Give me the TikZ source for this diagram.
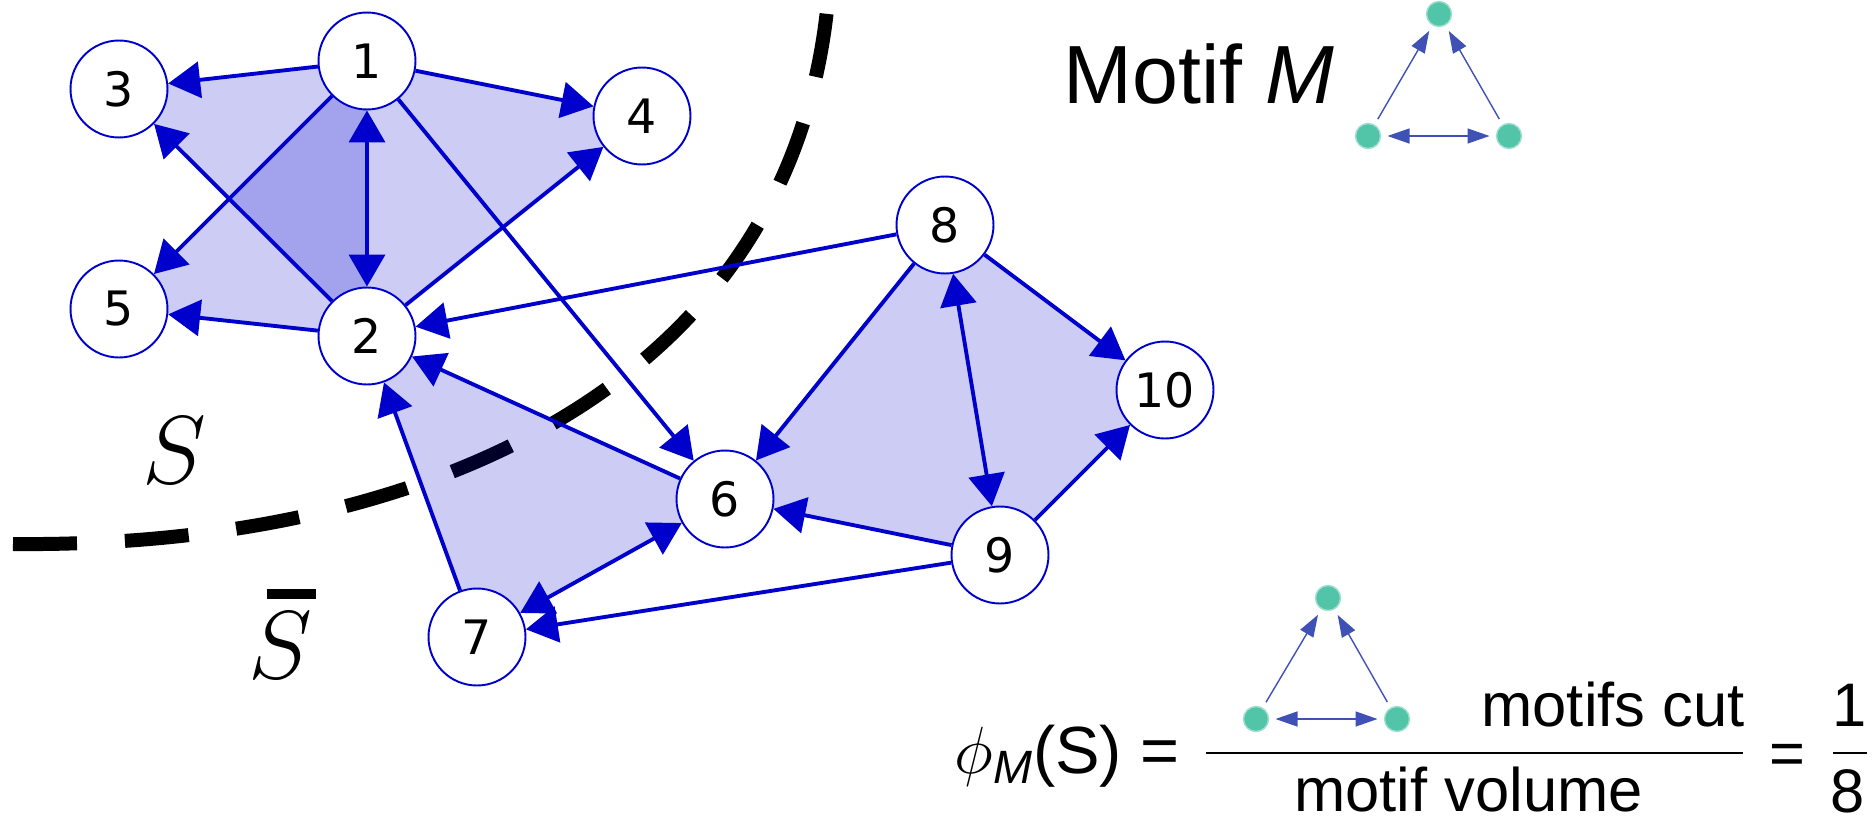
\RequirePackage{fix-cm}
\documentclass[tikz,border=0pt]{standalone}
\usepackage{fontspec}
\setmainfont{Liberation Sans}
\newfontfamily\numfont{DejaVu Sans}
\usetikzlibrary{arrows.meta,backgrounds}

\definecolor{edgeblue}{RGB}{0,0,204}
\definecolor{motifteal}{RGB}{82,196,168}
\definecolor{motifblue}{RGB}{63,81,181}

\tikzset{
    bigtip/.tip={Triangle[length=0.64cm,width=0.72cm]},
    smalltip/.tip={Triangle[length=0.44cm,width=0.3cm]}
}

\begin{document}
\begin{tikzpicture}[
        x=0.02cm, y=-0.02cm,
        vertex/.style={
            circle, draw=edgeblue, line width=1.1pt, fill=white,
            minimum size=1.94cm, inner sep=0pt,
            font=\numfont\fontsize{27}{30}\selectfont
        },
        link/.style={draw=edgeblue, line width=2.2pt, -bigtip},
        linkboth/.style={draw=edgeblue, line width=2.2pt, bigtip-bigtip},
        motiffill/.style={fill=edgeblue, fill opacity=0.2},
        mdot/.style={
            circle, fill=motifteal, draw=motifteal!55, line width=0.8pt,
            minimum size=0.5cm, inner sep=0pt, outer sep=0.14cm
        },
        marrow/.style={draw=motifblue, line width=0.8pt, -smalltip},
        mboth/.style={draw=motifblue, line width=0.8pt, smalltip-smalltip},
        sidelabel/.style={anchor=base west, inner sep=0pt, font=\fontsize{55}{60}\selectfont},
        bigtext/.style={inner sep=0pt, font=\fontsize{35}{40}\selectfont}
    ]
        \useasboundingbox (0,0) rectangle (1874,818);

        % GRAPH NODES
        \node[vertex] (n1) at (367,61) {1};
        \node[vertex] (n2) at (367,336) {2};
        \node[vertex] (n3) at (119,89) {3};
        \node[vertex] (n4) at (642,116) {4};
        \node[vertex] (n5) at (119,309) {5};
        \node[vertex] (n6) at (725,499) {6};
        \node[vertex] (n7) at (477,637) {7};
        \node[vertex] (n8) at (945,225) {8};
        \node[vertex] (n9) at (1000,555) {9};
        \node[vertex] (n10) at (1165,390) {10};

        % CUT AND MOTIF INSTANCES
        \begin{pgfonlayer}{background}
            \draw[line width=0.28cm, dash pattern=on 1.28cm off 0.96cm]
                (13,544) .. controls (420,548) and (785,390) .. (827,10);

            \fill[motiffill] (n1.center) -- (n2.center) -- (n3.center) -- cycle;
            \fill[motiffill] (n1.center) -- (n2.center) -- (n5.center) -- cycle;
            \fill[motiffill] (n1.center) -- (n2.center) -- (n4.center) -- cycle;
            \fill[motiffill] (n6.center) -- (n7.center) -- (n2.center) -- cycle;
            \fill[motiffill] (n8.center) -- (n9.center) -- (n6.center) -- cycle;
            \fill[motiffill] (n8.center) -- (n9.center) -- (n10.center) -- cycle;
        \end{pgfonlayer}

        % EDGES
        \draw[linkboth] (n1) -- (n2);
        \draw[link] (n1) -- (n3);
        \draw[link] (n1) -- (n4);
        \draw[link] (n1) -- (n5);
        \draw[link] (n1) -- (n6);
        \draw[link] (n2) -- (n3);
        \draw[link] (n2) -- (n4);
        \draw[link] (n2) -- (n5);
        \draw[link] (n8) -- (n2);
        \draw[link] (n6) -- (n2);
        \draw[link] (n7) -- (n2);
        \draw[linkboth] (n6) -- (n7);
        \draw[link] (n9) -- (n7);
        \draw[link] (n9) -- (n6);
        \draw[link] (n8) -- (n6);
        \draw[linkboth] (n8) -- (n9);
        \draw[link] (n8) -- (n10);
        \draw[link] (n9) -- (n10);

        % SIDES OF THE CUT
        \node[sidelabel] (side) at (142,483) {$S$};
        \node[sidelabel] (other) at (248,678)
            {\makebox[0pt][l]{\hspace{0.38cm}\rule[1.58cm]{0.98cm}{0.2cm}}$S$};

        % MOTIF
        \node[anchor=base west, inner sep=0pt, font=\fontsize{47}{52}\selectfont]
            (title) at (1063,103) {Motif \textit{M}};
        \begin{scope}[shift={(1368,136)}]
            \node[mdot] (ma) at (0,0) {};
            \node[mdot] (mb) at (141,0) {};
            \node[mdot] (mc) at (71,-122) {};
            \draw[marrow] (ma) -- (mc);
            \draw[marrow] (mb) -- (mc);
            \draw[mboth] (ma) -- (mb);
        \end{scope}

        % CONDUCTANCE
        \node[anchor=base east, inner sep=0pt, font=\fontsize{38}{42}\selectfont]
            (phi) at (1180,773) {$\phi$\textsubscript{\textit{M}}(S) =};
        \begin{scope}[shift={(1256,719)}]
            \node[mdot] (fa) at (0,0) {};
            \node[mdot] (fb) at (141,0) {};
            \node[mdot] (fc) at (72,-121) {};
            \draw[marrow] (fa) -- (fc);
            \draw[marrow] (fb) -- (fc);
            \draw[mboth] (fa) -- (fb);
        \end{scope}
        \node[bigtext, anchor=base east] (cut) at (1745,726) {motifs cut};
        \draw[line width=0.05cm] (1206,753) -- (1743,753);
        \node[bigtext, anchor=base west] (vol) at (1294,811) {motif volume};
        \node[bigtext, anchor=base] (eq) at (1787,774) {=};
        \node[bigtext, anchor=base] (one) at (1850,726) {1};
        \draw[line width=0.05cm] (1833,753) -- (1867,753);
        \node[bigtext, anchor=base] (eight) at (1848,812) {8};
    \end{tikzpicture}
\end{document}
